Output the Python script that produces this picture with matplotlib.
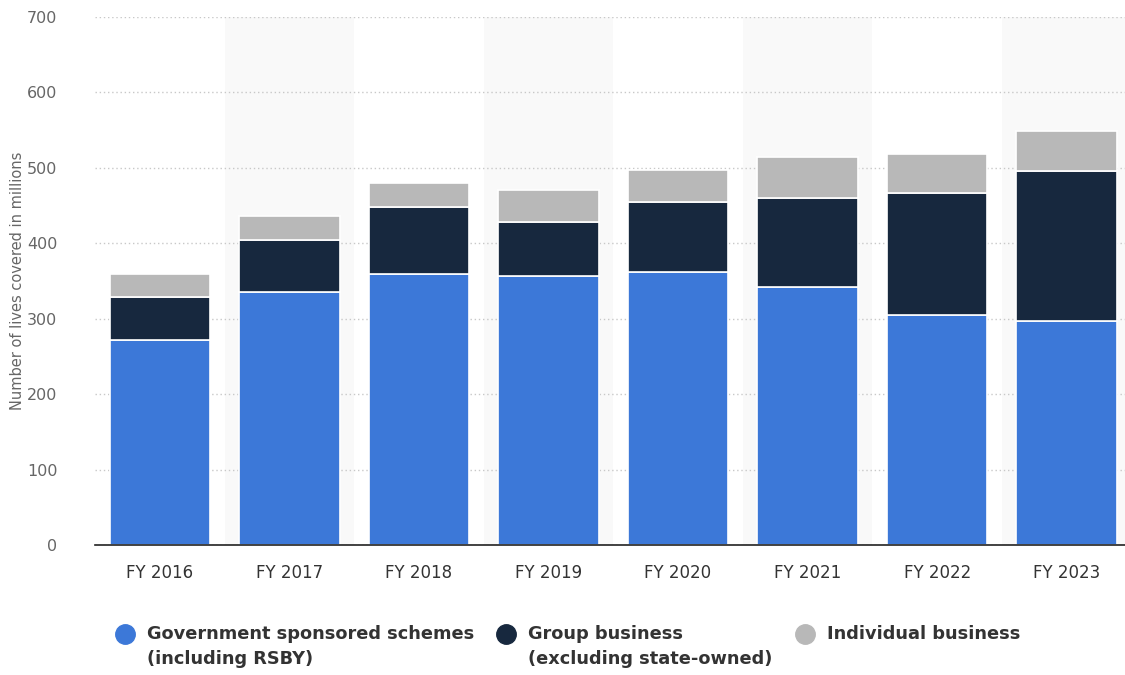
import matplotlib
matplotlib.use("Agg")
import matplotlib.pyplot as plt
import numpy as np

categories = ["FY 2016", "FY 2017", "FY 2018", "FY 2019", "FY 2020", "FY 2021", "FY 2022", "FY 2023"]
government = [272, 335, 359, 357, 362, 342, 305, 297]
group = [57, 69, 89, 71, 93, 118, 162, 199]
individual = [30, 32, 32, 43, 42, 54, 52, 53]
series_names = ["Government sponsored schemes\n(including RSBY)",
                "Group business\n(excluding state-owned)",
                "Individual business"]
colors = ["#3c78d8", "#17283e", "#b8b8b8"]
yticks = [0, 100, 200, 300, 400, 500, 600, 700]

W, H = 1125, 675
fig = plt.figure(figsize=(W / 100, H / 100), dpi=100)
ax = fig.add_axes([95/W, 1 - 545/H, 1 - 95/W, (545 - 17)/H])

x = np.arange(len(categories))
for i in range(len(categories)):
    if i % 2 == 1:
        ax.axvspan(i - 0.5, i + 0.5, color="#f9f9f9", zorder=0, lw=0)

bottom = np.zeros(len(categories))
for vals, c in zip([government, group, individual], colors):
    ax.bar(x, vals, bottom=bottom, width=0.775, color=c, edgecolor="white",
           linewidth=1.2, zorder=3)
    bottom += np.array(vals)

ax.set_ylim(0, 700)
ax.set_xlim(-0.5, 7.45)
ax.set_yticks(yticks)
ax.set_yticklabels([str(v) for v in yticks], color="#666666", fontsize=11.5)
ax.set_xticks(x)
ax.set_xticklabels(categories, color="#333333", fontsize=12)
ax.tick_params(axis="y", length=0, pad=27)
ax.tick_params(axis="x", length=0, pad=14)
ax.yaxis.grid(True, linestyle=(0, (1, 2)), color="#c8c8c8", linewidth=1, zorder=1)
ax.set_axisbelow(True)
for s in ["top", "right", "left"]:
    ax.spines[s].set_visible(False)
ax.spines["bottom"].set_color("#222222")
ax.spines["bottom"].set_linewidth(1.2)
ax.spines["bottom"].set_zorder(4)
ax.set_facecolor("none")

fig.text(18/W, 1 - 281/H, "Number of lives covered in millions", rotation=90,
         ha="center", va="center", color="#666666", fontsize=10.5)

# Legend drawn manually
marker_x = [125, 506, 805]
leg_y = 634
for mx, c, name in zip(marker_x, colors, series_names):
    fig.lines.append(plt.Line2D([mx / W], [1 - leg_y / H], marker="o", markersize=14,
                                color=c, linestyle="none", transform=fig.transFigure))
    lines = name.split("\n")
    for k, line in enumerate(lines):
        fig.text((mx + 22) / W, 1 - (leg_y + 25 * k) / H, line, ha="left", va="center",
                 fontsize=12.8, fontweight="bold", color="#333333")

fig.savefig("out.png", dpi=100)
